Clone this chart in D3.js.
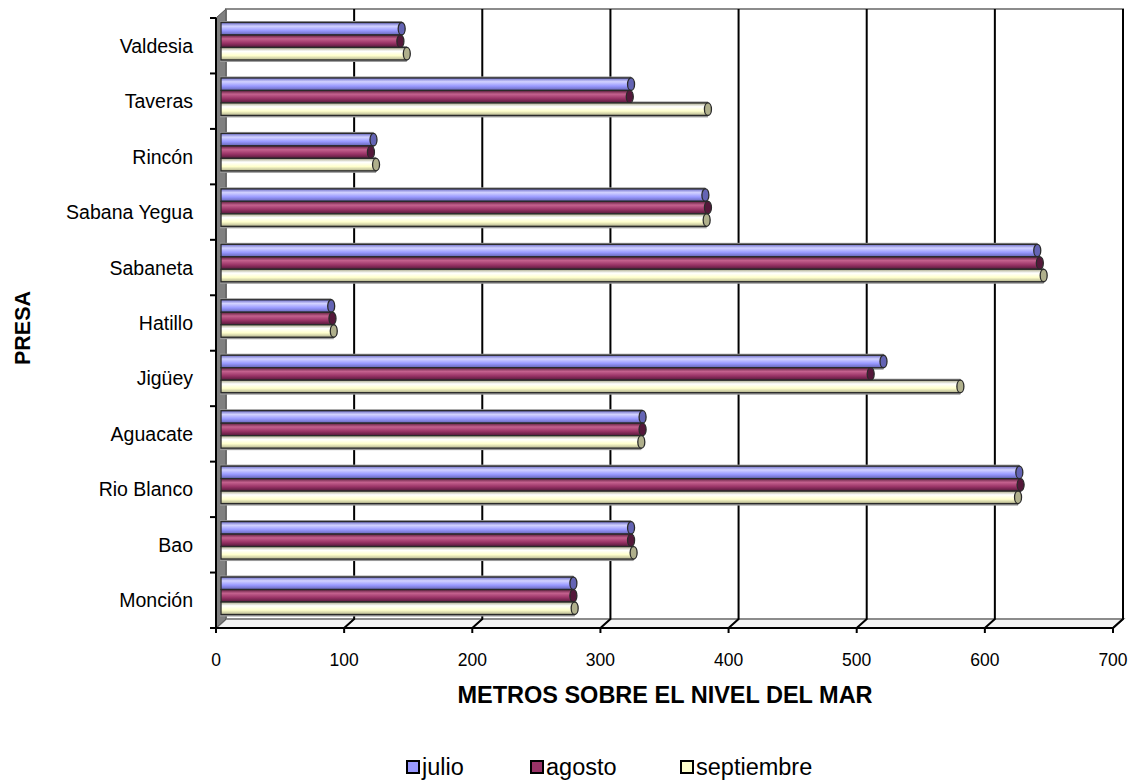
<!DOCTYPE html>
<html>
<head>
<meta charset="utf-8">
<script src="https://cdn.jsdelivr.net/npm/d3@7"></script>
<style>
  body { margin: 0; background: #fff; }
  text { font-family: "Liberation Sans", Arial, sans-serif; fill: #000; }
</style>
</head>
<body>
<script>
  // data
  var presas = ["Valdesia", "Taveras", "Rincón", "Sabana Yegua", "Sabaneta", "Hatillo",
    "Jigüey", "Aguacate", "Rio Blanco", "Bao", "Monción"];
  var meses = ["julio", "agosto", "septiembre"];
  var julio = [141, 320, 119, 378, 637, 86, 517, 329, 623, 320, 275];
  var agosto = [140, 319, 117, 380, 639, 87, 507, 329, 624, 320, 275];
  var septiembre = [145, 380, 121, 379, 642, 88, 577, 328, 622, 322, 276];
  var xTicks = [0, 100, 200, 300, 400, 500, 600, 700];

  var series = [julio, agosto, septiembre];
  var colores = {
    julio: ["#6a6ac8", "#d2d2ff", "#9999ff", "#6464b4"],
    agosto: ["#5e1e3e", "#c4618e", "#993366", "#54183a"],
    septiembre: ["#a8a888", "#ffffff", "#ffffcc", "#b0b08c"]
  };

  var W = 1128, H = 781;
  var dx = 10, dy = -9;   // depth offset of the 3d box

  var svg = d3.select("body").append("svg")
    .attr("width", W).attr("height", H);

  var xRange = d3.scaleLinear().domain([0, 700]).range([216, 1113]);
  var yRange = d3.scaleBand().domain(presas).range([18, 628]);
  var ySub = d3.scaleBand().domain(meses).range([9, yRange.bandwidth() - 9]).padding(0);

  var defs = svg.append("defs");
  meses.forEach(function (m) {
    var c = colores[m];
    var g = defs.append("linearGradient").attr("id", "grad-" + m)
      .attr("x1", 0).attr("y1", 0).attr("x2", 0).attr("y2", 1);
    g.append("stop").attr("offset", "0%").attr("stop-color", c[0]);
    g.append("stop").attr("offset", "30%").attr("stop-color", c[1]);
    g.append("stop").attr("offset", "65%").attr("stop-color", c[2]);
    g.append("stop").attr("offset", "100%").attr("stop-color", c[3]);
  });

  var x0 = xRange(0), x1 = xRange(700);
  var yTop = 18, yBot = 628;

  // back wall
  svg.append("rect")
    .attr("x", x0 + dx).attr("y", yTop + dy)
    .attr("width", x1 - x0).attr("height", yBot - yTop)
    .attr("fill", "#fff").attr("stroke", "#8c8c8c").attr("stroke-width", 2);

  // floor
  svg.append("path")
    .attr("d", "M" + x0 + "," + yBot + "L" + x1 + "," + yBot + "L" + (x1 + dx) + "," + (yBot + dy) +
      "L" + (x0 + dx) + "," + (yBot + dy) + "Z")
    .attr("fill", "#f4f4f4").attr("stroke", "#8c8c8c").attr("stroke-width", 2);

  // side wall
  svg.append("path")
    .attr("d", "M" + x0 + "," + yBot + "L" + (x0 + dx) + "," + (yBot + dy) + "L" + (x0 + dx) + "," + (yTop + dy) +
      "L" + x0 + "," + yTop + "Z")
    .attr("fill", "#808080").attr("stroke", "#555").attr("stroke-width", 1);

  // gridlines on the back wall, bending on the floor
  svg.selectAll("path.grid")
    .data(xTicks.slice(1))
    .enter().append("path")
    .attr("class", "grid")
    .attr("d", function (d) {
      var xb = xRange(d) + dx;
      return "M" + xb + "," + (yTop + dy) + "L" + xb + "," + (yBot + dy) + "L" + xRange(d) + "," + yBot;
    })
    .attr("fill", "none").attr("stroke", "#000").attr("stroke-width", 2);

  // bars as cylinders, drawn at half depth
  var barX = function (v) { return xRange(v) + dx / 2; };
  var groups = svg.selectAll("g.presa")
    .data(presas)
    .enter().append("g")
    .attr("class", "presa")
    .attr("transform", function (d) { return "translate(0," + (yRange(d) + dy / 2) + ")"; });

  // soft grey edge behind each cylinder
  meses.forEach(function (m, k) {
    var h = ySub.bandwidth();
    groups.append("rect")
      .attr("x", barX(0) - 1)
      .attr("y", ySub(m) - 1.5)
      .attr("width", function (d, i) { return barX(series[k][i]) - barX(0) + 1; })
      .attr("height", h + 3.5)
      .attr("fill", "#9a9a9a");
  });

  meses.forEach(function (m, k) {
    var h = ySub.bandwidth();
    groups.append("rect")
      .attr("x", barX(0))
      .attr("y", ySub(m))
      .attr("width", function (d, i) { return barX(series[k][i]) - barX(0); })
      .attr("height", h)
      .attr("fill", "url(#grad-" + m + ")")
      .attr("stroke", "#2a2a2a").attr("stroke-width", 1.3);
    groups.append("ellipse")
      .attr("cx", function (d, i) { return barX(series[k][i]); })
      .attr("cy", ySub(m) + h / 2)
      .attr("rx", 3.5).attr("ry", h / 2)
      .attr("fill", colores[m][3])
      .attr("stroke", "#2a2a2a").attr("stroke-width", 1.3);
  });

  // y axis
  svg.append("line")
    .attr("x1", x0).attr("x2", x0).attr("y1", yTop).attr("y2", yBot)
    .attr("stroke", "#000").attr("stroke-width", 2);
  var yEdges = presas.map(function (d) { return yRange(d); }).concat([yBot]);
  svg.selectAll("line.ytick")
    .data(yEdges)
    .enter().append("line")
    .attr("class", "ytick")
    .attr("x1", x0 - 6).attr("x2", x0)
    .attr("y1", function (d) { return d; }).attr("y2", function (d) { return d; })
    .attr("stroke", "#000").attr("stroke-width", 2);
  svg.selectAll("text.ylab")
    .data(presas)
    .enter().append("text")
    .attr("class", "ylab")
    .attr("x", 193)
    .attr("y", function (d) { return yRange(d) + yRange.bandwidth() / 2 + 7; })
    .attr("text-anchor", "end")
    .attr("font-size", 19.5)
    .text(function (d) { return d; });

  // x axis
  svg.append("line")
    .attr("x1", x0).attr("x2", x1).attr("y1", yBot).attr("y2", yBot)
    .attr("stroke", "#000").attr("stroke-width", 2);
  svg.selectAll("line.xtick")
    .data(xTicks)
    .enter().append("line")
    .attr("class", "xtick")
    .attr("x1", function (d) { return xRange(d); }).attr("x2", function (d) { return xRange(d); })
    .attr("y1", yBot).attr("y2", yBot + 5)
    .attr("stroke", "#000").attr("stroke-width", 2);
  svg.selectAll("text.xlab")
    .data(xTicks)
    .enter().append("text")
    .attr("class", "xlab")
    .attr("x", function (d) { return xRange(d); })
    .attr("y", 666)
    .attr("text-anchor", "middle")
    .attr("font-size", 17.5)
    .text(function (d) { return d; });

  // axis titles
  svg.append("text")
    .attr("x", 665).attr("y", 703)
    .attr("text-anchor", "middle")
    .attr("font-size", 23.5).attr("font-weight", "bold")
    .text("METROS SOBRE EL NIVEL DEL MAR");
  svg.append("text")
    .attr("transform", "translate(30,328) rotate(-90)")
    .attr("text-anchor", "middle")
    .attr("font-size", 21.5).attr("font-weight", "bold")
    .text("PRESA");

  // legend
  var legX = [406, 530, 680];
  var leg = svg.selectAll("g.leg")
    .data(meses)
    .enter().append("g")
    .attr("class", "leg")
    .attr("transform", function (d, i) { return "translate(" + legX[i] + ",760)"; });
  leg.append("rect")
    .attr("x", 1).attr("y", 1).attr("width", 12).attr("height", 12)
    .attr("fill", function (d) { return colores[d][2]; })
    .attr("stroke", "#000").attr("stroke-width", 2);
  leg.append("text")
    .attr("x", 16).attr("y", 15)
    .attr("font-size", 23.5)
    .text(function (d) { return d; });
</script>
</body>
</html>
